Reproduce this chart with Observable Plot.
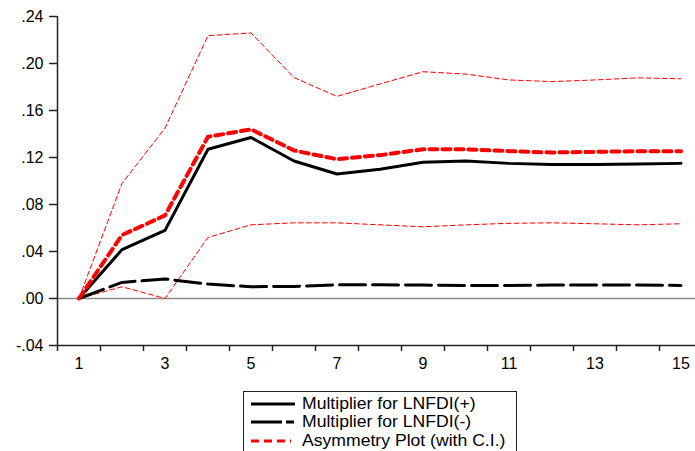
<!DOCTYPE html>
<html><head><meta charset="utf-8">
<script src="https://cdn.jsdelivr.net/npm/d3@7"></script>
<script src="https://cdn.jsdelivr.net/npm/@observablehq/plot@0.6"></script>
<style>
body{margin:0;background:#fff;font-family:"Liberation Sans",Arial,sans-serif;}
#wrap{position:relative;width:695px;height:451px;overflow:hidden;background:#fff;}
#legend{position:absolute;left:243px;top:391px;width:272px;height:80px;border:1px solid #222;background:#fff;}
.row{position:absolute;left:251px;height:18px;display:flex;align-items:center;}
.row span{font-size:16px;margin-left:7px;transform:scaleX(1.1);transform-origin:left center;white-space:nowrap;color:#000;}
</style></head><body>
<div id="wrap"><div id="chart"></div><div id="legend"></div>
<div class="row" style="top:395px"><svg width="44" height="6"><line x1="0" x2="44" y1="3" y2="3" stroke="#000" stroke-width="3"/></svg><span>Multiplier for LNFDI(+)</span></div>
<div class="row" style="top:413px"><svg width="44" height="6"><line x1="0" x2="44" y1="3" y2="3" stroke="#000" stroke-width="3" stroke-dasharray="31,4,8,20"/></svg><span>Multiplier for LNFDI(-)</span></div>
<div class="row" style="top:432px"><svg width="44" height="6"><line x1="0" x2="40" y1="3" y2="3" stroke="#ff0000" stroke-width="3" stroke-dasharray="8,5"/></svg><span>Asymmetry Plot (with C.I.)</span></div>
</div>
<script>
const periods = [1,2,3,4,5,6,7,8,9,10,11,12,13,14,15];
const posMult = [0, 0.0416, 0.058, 0.127, 0.137, 0.117, 0.106, 0.110, 0.116, 0.117, 0.115, 0.114, 0.114, 0.1145, 0.115];
const negMult = [0, 0.0137, 0.0166, 0.0123, 0.0100, 0.0103, 0.0117, 0.0117, 0.0114, 0.0111, 0.0111, 0.0114, 0.0114, 0.0114, 0.0111];
const asym = [0, 0.054, 0.0707, 0.1376, 0.144, 0.126, 0.1185, 0.122, 0.127, 0.127, 0.1254, 0.1243, 0.1248, 0.1254, 0.1254];
const upperCI = [0, 0.098, 0.145, 0.2237, 0.226, 0.188, 0.172, 0.1826, 0.193, 0.191, 0.186, 0.1846, 0.186, 0.1878, 0.187];
const lowerCI = [0, 0.010, 0.000, 0.052, 0.0627, 0.0644, 0.0644, 0.0627, 0.061, 0.0627, 0.064, 0.0644, 0.0636, 0.0627, 0.0636];
const yTicks = [-0.04, 0, 0.04, 0.08, 0.12, 0.16, 0.20, 0.24];
const xLabels = [1, 3, 5, 7, 9, 11, 13, 15];
const xBounds = [0.5,1.5,2.5,3.5,4.5,5.5,6.5,7.5,8.5,9.5,10.5,11.5,12.5,13.5,14.5];

const rows = vals => periods.map((p, i) => ({period: p, value: vals[i]}));
const fmt = d => { const s = (Math.round(d * 100) / 100).toFixed(2); return s.replace(/^(-?)0\./, "$1."); };

const chart = Plot.plot({
  width: 695, height: 385,
  marginLeft: 57, marginRight: 0, marginTop: 16, marginBottom: 40,
  style: {fontFamily: '"Liberation Sans", Arial, sans-serif', fontSize: "16px", color: "#222", background: "#fff"},
  x: {domain: [0.5, 15.5], range: [57, 702]},
  y: {domain: [-0.04, 0.24]},
  marks: [
    Plot.ruleY([0], {stroke: "#8a8a8a", strokeWidth: 1.5}),
    Plot.ruleX([0.5], {stroke: "#222", strokeWidth: 1.5}),
    Plot.ruleY([-0.04], {stroke: "#222", strokeWidth: 1.5}),
    Plot.axisY({ticks: yTicks, tickFormat: fmt, tickSize: 8, tickPadding: 6, strokeWidth: 1.5, fill: "#000", label: null}),
    Plot.axisX({ticks: xBounds, tickFormat: () => "", tickSize: 6, strokeWidth: 1.5, label: null}),
    Plot.axisX({ticks: xLabels, tickFormat: d => String(d), tickSize: 0, tickPadding: 12, fill: "#000", label: null}),
    Plot.line(rows(upperCI), {x: "period", y: "value", stroke: "#ff0000", strokeWidth: 1, strokeDasharray: "5,3"}),
    Plot.line(rows(lowerCI), {x: "period", y: "value", stroke: "#ff0000", strokeWidth: 1, strokeDasharray: "5,3"}),
    Plot.line(rows(negMult), {x: "period", y: "value", stroke: "#000", strokeWidth: 3, strokeDasharray: "26,7"}),
    Plot.line(rows(posMult), {x: "period", y: "value", stroke: "#000", strokeWidth: 3}),
    Plot.line(rows(asym), {x: "period", y: "value", stroke: "#ff0000", strokeWidth: 4, strokeDasharray: "8,5"})
  ]
});
document.getElementById("chart").appendChild(chart);
</script>
</body></html>
